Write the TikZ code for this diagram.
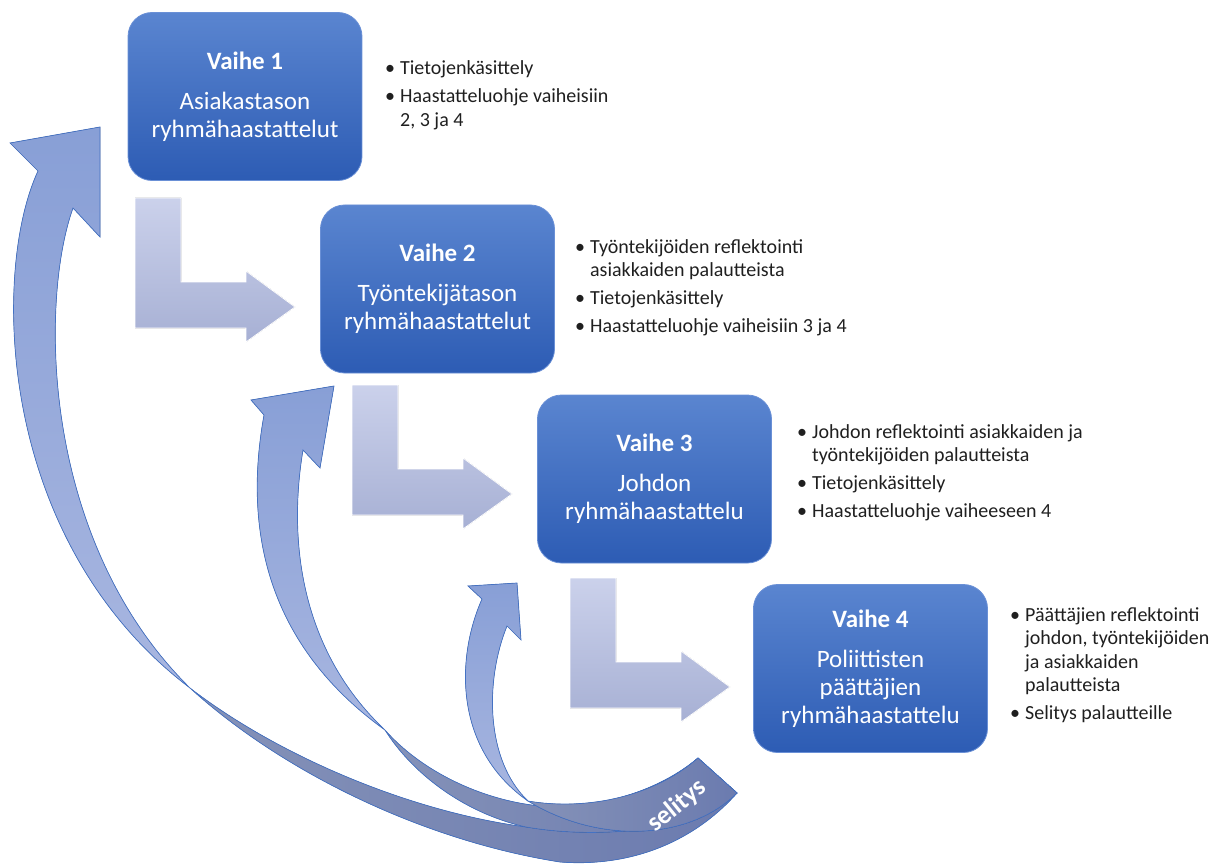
\documentclass[tikz,border=0pt]{standalone}
\usepackage{fontspec}
\setmainfont{Carlito}
\definecolor{boxtop}{HTML}{5A85D0}
\definecolor{boxbot}{HTML}{2D5CB4}
\definecolor{boxedge}{HTML}{6A90D6}
\definecolor{notetext}{HTML}{1F1F1F}
\definecolor{steptop}{HTML}{CBD1EB}
\definecolor{stepbot}{HTML}{A7B0D4}
\definecolor{fronttop}{HTML}{889FD6}
\definecolor{frontbot}{HTML}{A8B6E0}
\definecolor{backleft}{HTML}{8592B8}
\definecolor{backright}{HTML}{6B7BAF}
\definecolor{ribbonedge}{HTML}{4472C4}

\begin{document}
\begin{tikzpicture}[x=1pt,y=-1pt,
    phase/.style={rounded corners=24pt, minimum width=234pt, minimum height=168pt,
      top color=boxtop, bottom color=boxbot, draw=boxedge, line width=0.8pt,
      text=white, align=center, font=\fontsize{25}{28}\selectfont},
    notes/.style={anchor=base west, inner sep=0pt, text=notetext,
      font=\fontsize{20}{23.5}\selectfont},
    bendarrow/.style={top color=steptop, bottom color=stepbot, draw=white, line width=0.8pt},
    front/.style={top color=fronttop, bottom color=frontbot, draw=ribbonedge, line width=0.7pt},
    back/.style={left color=backleft, right color=backright, draw=ribbonedge, line width=0.7pt}]
  \useasboundingbox (0,0) rectangle (1227,864);

  % return arrows, tails first
  \filldraw[back] (190,688) .. controls (280,770) and (420,840) .. (560,862)
    .. controls (640,868) and (700,835) .. (737,793) -- (698,758)
    .. controls (650,800) and (580,826) .. (526,827)
    .. controls (400,810) and (270,750) .. (190,688) -- cycle;
  \filldraw[front] (190,688) .. controls (-5,540) and (-8,270) .. (38,171)
    -- (10,143) -- (100,127) -- (100,237) -- (73,208)
    .. controls (40,300) and (40,540) .. (190,688) -- cycle;
  \filldraw[back] (385,730) .. controls (420,770) and (480,800) .. (540,806)
    .. controls (600,810) and (660,790) .. (698,758) -- (737,793)
    .. controls (700,830) and (600,840) .. (526,827)
    .. controls (460,812) and (410,770) .. (385,730) -- cycle;
  \filldraw[front] (385,730) .. controls (260,640) and (245,520) .. (264,415)
    -- (251,400) -- (334,386) -- (320,468) -- (303,450)
    .. controls (288,540) and (300,650) .. (385,730) -- cycle;
  \filldraw[back] (528,801) .. controls (580,810) and (650,800) .. (698,758)
    -- (737,793) .. controls (690,840) and (600,845) .. (528,801) -- cycle;
  \filldraw[front] (528,801) .. controls (455,750) and (455,660) .. (482,599)
    -- (468,586) -- (517,583) -- (521,640) -- (507,626)
    .. controls (485,680) and (485,760) .. (528,801) -- cycle;
  \node[rotate=39, text=white, inner sep=0pt, font=\bfseries\fontsize{26}{26}\selectfont] (selitys) at (677,806) {selitys};

  % bent step arrows
  \foreach \ox/\oy in {135/198, 352/385, 570/578}
    \filldraw[bendarrow, shift={(\ox,\oy)}] (0,0) -- (46,0) -- (46,84) -- (111,84) -- (111,73)
      -- (160,109) -- (111,144) -- (111,130) -- (0,130) -- cycle;

  % phases
  \node[phase] (vaihe1) at (245,96.5) {\textbf{Vaihe 1}\\[12pt]Asiakastason\\ryhmähaastattelut};
  \node[phase] (vaihe2) at (437.5,289) {\textbf{Vaihe 2}\\[12pt]Työntekijätason\\ryhmähaastattelut};
  \node[phase] (vaihe3) at (654.5,479) {\textbf{Vaihe 3}\\[12pt]Johdon\\ryhmähaastattelu};
  \node[phase] (vaihe4) at (870.5,668.5) {\textbf{Vaihe 4}\\[12pt]Poliittisten\\päättäjien\\ryhmähaastattelu};

  % notes beside each phase
  \node[notes] (notes1) at (385,75) {\begin{tabular}[t]{@{}l@{\hspace{5pt}}l@{}}
    \textbullet & Tietojenkäsittely\\[4.5pt]
    \textbullet & Haastatteluohje vaiheisiin\\
     & 2, 3 ja 4\end{tabular}};
  \node[notes] (notes2) at (575,253) {\begin{tabular}[t]{@{}l@{\hspace{5pt}}l@{}}
    \textbullet & Työntekijöiden reflektointi\\
     & asiakkaiden palautteista\\[4.5pt]
    \textbullet & Tietojenkäsittely\\[4.5pt]
    \textbullet & Haastatteluohje vaiheisiin 3 ja 4\end{tabular}};
  \node[notes] (notes3) at (797,438) {\begin{tabular}[t]{@{}l@{\hspace{5pt}}l@{}}
    \textbullet & Johdon reflektointi asiakkaiden ja\\
     & työntekijöiden palautteista\\[4.5pt]
    \textbullet & Tietojenkäsittely\\[4.5pt]
    \textbullet & Haastatteluohje vaiheeseen 4\end{tabular}};
  \node[notes] (notes4) at (1010,621) {\begin{tabular}[t]{@{}l@{\hspace{5pt}}l@{}}
    \textbullet & Päättäjien reflektointi\\
     & johdon, työntekijöiden\\
     & ja asiakkaiden\\
     & palautteista\\[4.5pt]
    \textbullet & Selitys palautteille\end{tabular}};
\end{tikzpicture}
\end{document}
